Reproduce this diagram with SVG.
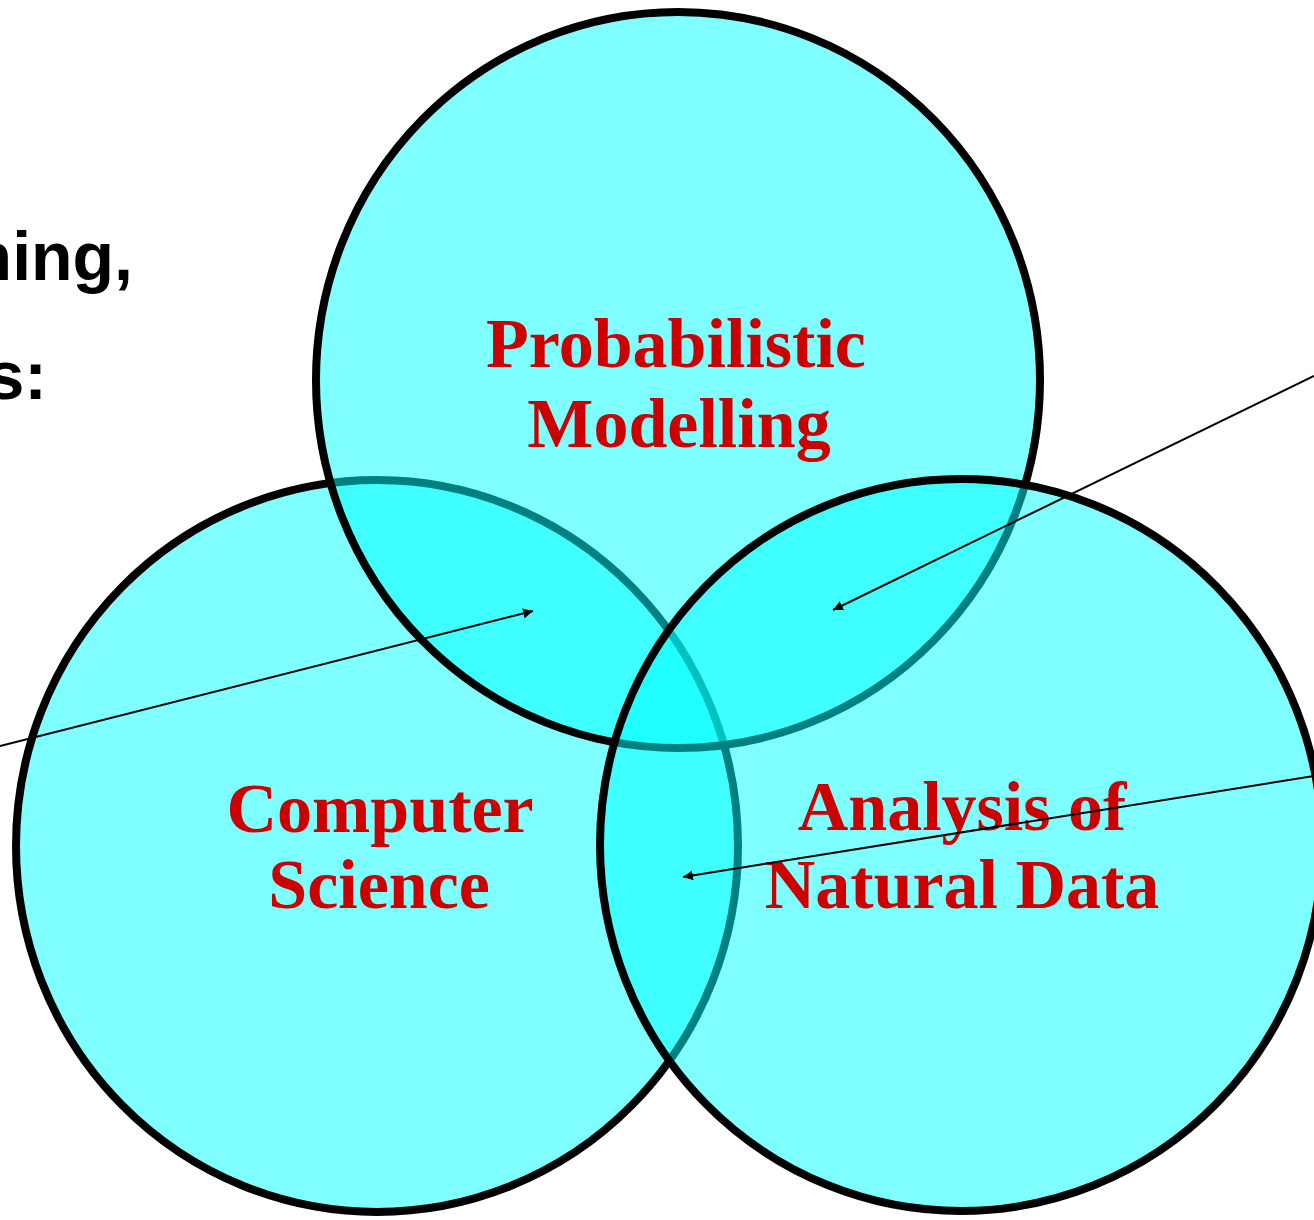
<svg xmlns="http://www.w3.org/2000/svg" width="1314" height="1220" viewBox="0 0 1314 1220">
  <style>
    .set { fill: #00ffff; fill-opacity: 0.5; stroke: #000; stroke-width: 8; }
    .label { font-family: "Liberation Serif", "Times New Roman", serif; font-weight: bold; font-size: 70px; fill: #cc0000; text-anchor: middle; }
    .side { font-family: "Liberation Sans", Arial, sans-serif; font-weight: bold; font-size: 68px; fill: #000; text-anchor: end; }
    .link { stroke: #000; stroke-width: 2; fill: none; marker-end: url(#head); }
  </style>
  <defs>
    <marker id="head" viewBox="0 0 10 10" refX="10" refY="5" markerWidth="10" markerHeight="10" markerUnits="userSpaceOnUse" orient="auto">
      <path d="M0,0 L10,5 L0,10 Z" fill="#000"/>
    </marker>
  </defs>
  <rect width="1314" height="1220" fill="#fff"/>

  <!-- partial bullet text at left edge -->
  <g id="side-text">
    <text class="side" x="133" y="280">ning,</text>
    <text class="side" x="47" y="399">s:</text>
  </g>

  <!-- set circles: computer science at the bottom, data analysis on top -->
  <g id="computer-science">
    <ellipse class="set" cx="377" cy="846" rx="361" ry="366"/>
  </g>
  <g id="probabilistic-modelling">
    <ellipse class="set" cx="678" cy="380" rx="362" ry="368"/>
  </g>
  <g id="natural-data">
    <ellipse class="set" cx="961" cy="845" rx="361" ry="366"/>
  </g>

  <g id="labels">
    <text class="label" x="676" y="367">Probabilistic</text>
    <text class="label" x="679" y="447">Modelling</text>
    <text class="label" x="380" y="832">Computer</text>
    <text class="label" x="379" y="908">Science</text>
    <text class="label" x="962" y="830">Analysis of</text>
    <text class="label" x="962" y="908">Natural Data</text>
  </g>

  <g id="connectors">
    <line class="link" x1="0" y1="746" x2="533" y2="611"/>
    <line class="link" x1="1314" y1="376" x2="833" y2="610"/>
    <line class="link" x1="1314" y1="776" x2="683" y2="877"/>
  </g>
</svg>
